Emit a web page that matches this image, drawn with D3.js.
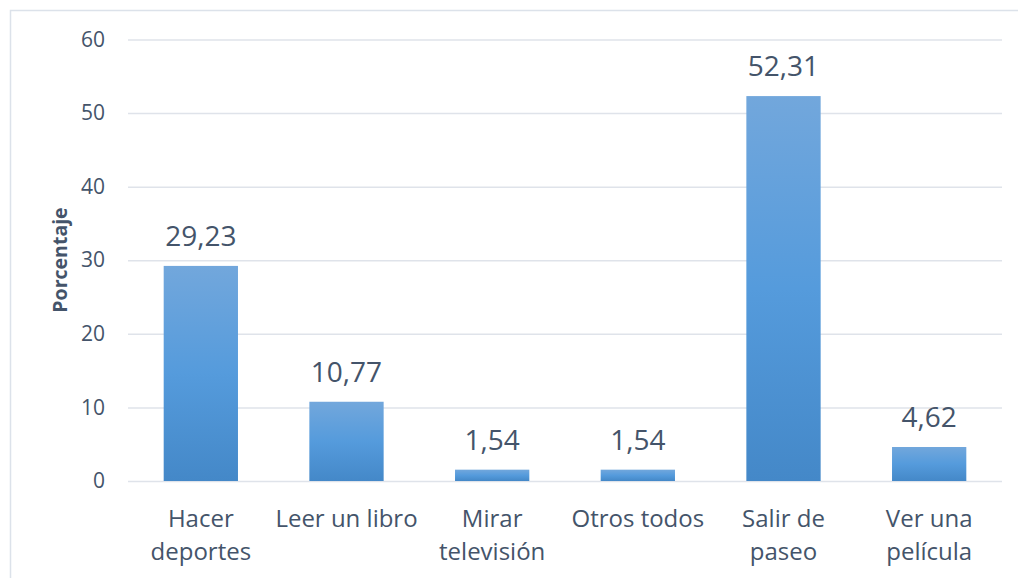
<!DOCTYPE html>
<html>
<head>
<meta charset="utf-8">
<script src="https://cdn.jsdelivr.net/npm/d3@7"></script>
<style>
  html, body { margin: 0; padding: 0; background: #fff; overflow: hidden; }
  svg { display: block; font-family: "Open Sans", sans-serif; }
</style>
</head>
<body>
<div id="chart"></div>
<script>
// datos
var categorias = [
    ['Hacer', 'deportes'],
    ['Leer un libro'],
    ['Mirar', 'televisión'],
    ['Otros todos'],
    ['Salir de', 'paseo'],
    ['Ver una', 'película']
];
var valores = [29.23, 10.77, 1.54, 1.54, 52.31, 4.62];
var ticksY = [0, 10, 20, 30, 40, 50, 60];

var ancho = 1018,
    alto = 578;

var margin = { top: 39.5, right: 16, bottom: 97, left: 128 };
var innerWidth = ancho - margin.left - margin.right,
    innerHeight = alto - margin.top - margin.bottom;

var colorTexto = '#44546a';

var svg = d3.select('#chart').append('svg')
    .attr('width', ancho)
    .attr('height', alto);

// gradiente de las barras
var grad = svg.append('defs').append('linearGradient')
    .attr('id', 'gradBarra')
    .attr('x1', 0).attr('y1', 0).attr('x2', 0).attr('y2', 1);
grad.append('stop').attr('offset', '0%').attr('stop-color', '#72a7dc');
grad.append('stop').attr('offset', '50%').attr('stop-color', '#559bdc');
grad.append('stop').attr('offset', '100%').attr('stop-color', '#4488c8');

// marco (sale por la derecha y por abajo como en el original)
svg.append('path')
    .attr('d', 'M10.5,' + alto + 'V10.5H' + ancho)
    .attr('fill', 'none')
    .attr('stroke', '#dce2ea')
    .attr('stroke-width', 1.5);

var g = svg.append('g')
    .attr('transform', 'translate(' + margin.left + ',' + margin.top + ')');

var scaleX = d3.scaleBand()
    .domain(d3.range(categorias.length))
    .range([0, innerWidth])
    .paddingInner(0.49)
    .paddingOuter(0.245);

var scaleY = d3.scaleLinear()
    .domain([0, 60])
    .range([innerHeight, 0]);

// lineas de cuadricula
var yAxis = d3.axisLeft(scaleY)
    .tickValues(ticksY)
    .tickSize(-innerWidth)
    .tickPadding(23)
    .tickFormat(d3.format('d'));

var ejeY = g.append('g').attr('class', 'axis axis--y').call(yAxis);
ejeY.select('.domain').remove();
ejeY.selectAll('.tick line')
    .attr('stroke', '#dfe3ea')
    .attr('stroke-width', 1.5);
ejeY.selectAll('.tick text')
    .attr('fill', colorTexto)
    .style('font-size', '21px')
    .style('font-family', '"Open Sans", sans-serif');

// barras
g.selectAll('.bar')
    .data(valores)
    .enter().append('rect')
    .attr('class', 'bar')
    .attr('x', function (d, i) { return scaleX(i); })
    .attr('y', function (d) { return scaleY(d); })
    .attr('width', scaleX.bandwidth())
    .attr('height', function (d) { return innerHeight - scaleY(d); })
    .attr('fill', 'url(#gradBarra)');

// etiquetas de datos
g.selectAll('.label')
    .data(valores)
    .enter().append('text')
    .attr('class', 'label')
    .attr('x', function (d, i) { return scaleX(i) + scaleX.bandwidth() / 2; })
    .attr('y', function (d) { return scaleY(d) - 20; })
    .attr('text-anchor', 'middle')
    .attr('fill', colorTexto)
    .style('font-size', '28px')
    .text(function (d) { return d3.format('.2f')(d).replace('.', ','); });

// eje x (categorias)
var catText = g.selectAll('.cat')
    .data(categorias)
    .enter().append('text')
    .attr('class', 'cat')
    .attr('text-anchor', 'middle')
    .attr('fill', colorTexto)
    .style('font-size', '24px')
    .attr('transform', function (d, i) {
        return 'translate(' + (scaleX(i) + scaleX.bandwidth() / 2) + ',' + (innerHeight + 46) + ')';
    });

catText.selectAll('tspan')
    .data(function (d) { return d; })
    .enter().append('tspan')
    .attr('x', 0)
    .attr('y', function (d, i) { return i * 33; })
    .text(function (d) { return d; });

// titulo eje y
svg.append('text')
    .attr('transform', 'translate(67,' + 260 + ') rotate(-90)')
    .attr('text-anchor', 'middle')
    .attr('fill', colorTexto)
    .style('font-size', '19.5px')
    .style('font-weight', 'bold')
    .text('Porcentaje');
</script>
</body>
</html>
